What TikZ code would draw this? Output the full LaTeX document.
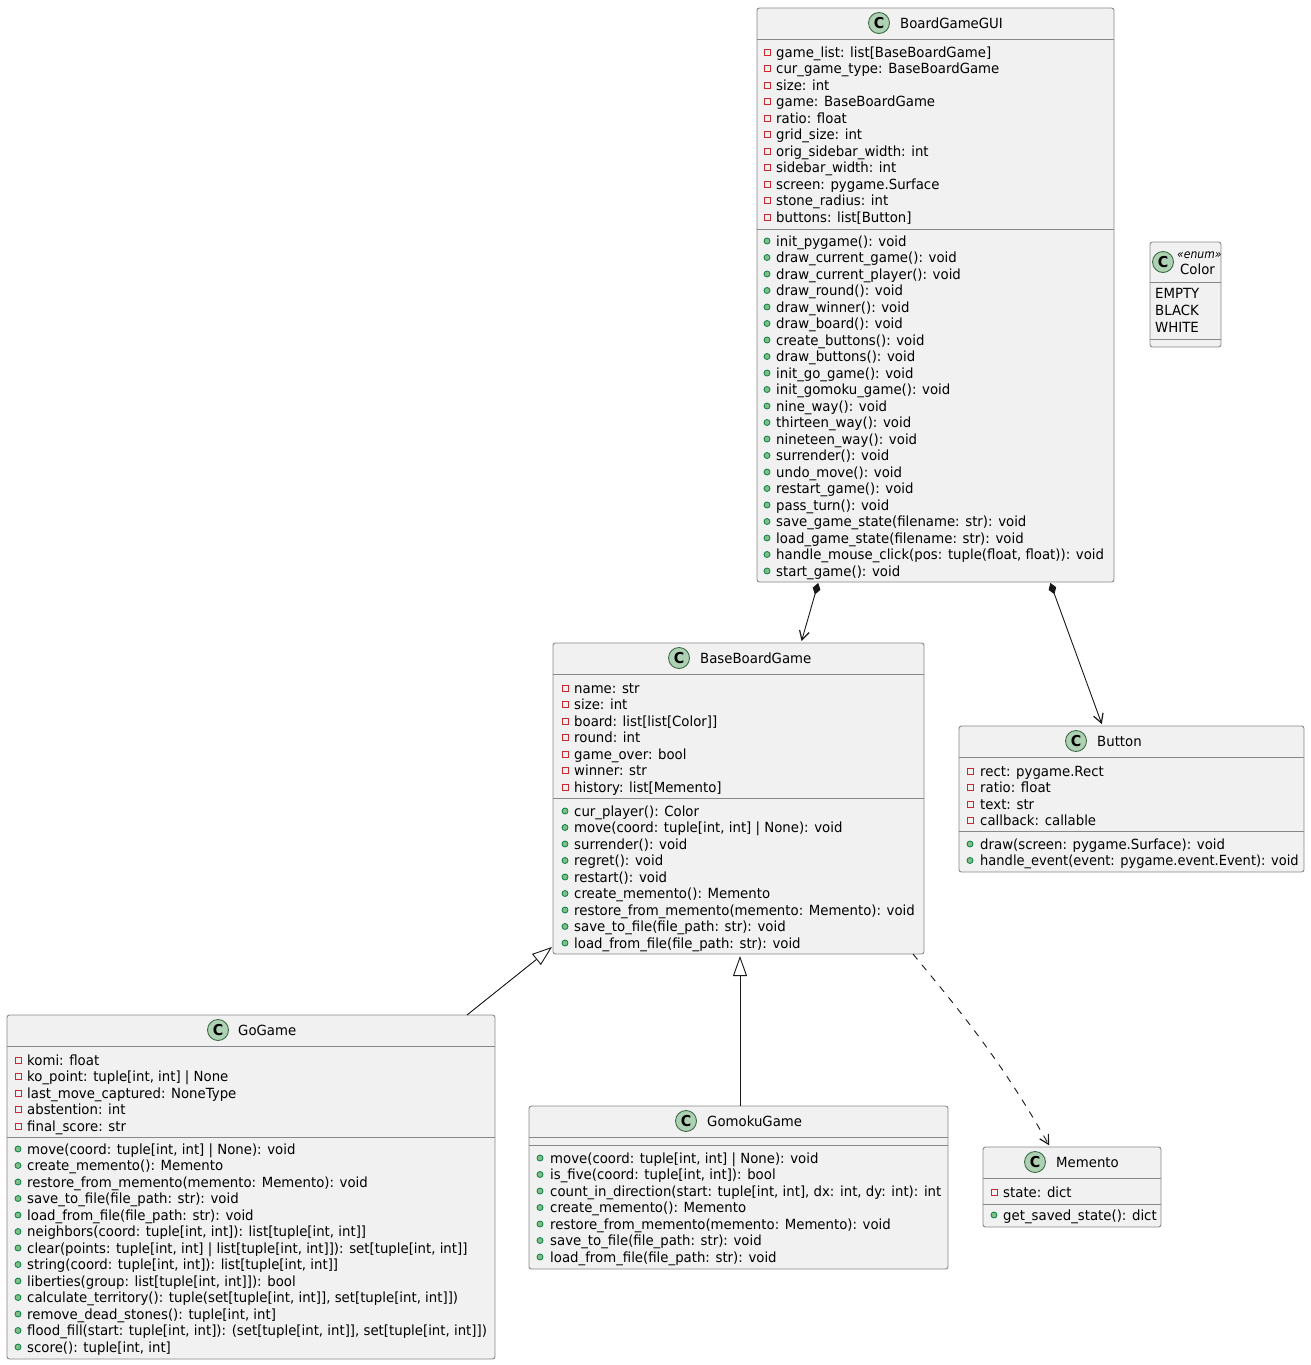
\documentclass[tikz,border=0pt]{standalone}
\usepackage{fontspec}
\setmainfont[FakeStretch=0.95]{DejaVu Sans}
\usetikzlibrary{arrows.meta}

\definecolor{boxfill}{HTML}{F1F1F1}
\definecolor{boxline}{HTML}{888888}
\definecolor{linkline}{HTML}{181818}
\definecolor{spotfill}{HTML}{ADD1B2}
\definecolor{spotline}{HTML}{3D6B47}
\definecolor{privline}{HTML}{C82930}
\definecolor{pubfill}{HTML}{84BE84}
\definecolor{publine}{HTML}{038048}

\tikzset{
  classbox/.style={draw=boxline, fill=boxfill, line width=0.9pt, rounded corners=2.5pt, outer sep=0pt, anchor=north west},
  sepline/.style={draw=boxline, line width=0.9pt},
  spot/.style={circle, draw=spotline, fill=spotfill, line width=0.9pt, minimum size=21pt, inner sep=0pt, font=\fontsize{15}{15}\bfseries},
  titletext/.style={anchor=base west, inner sep=0pt, font=\fontsize{14}{16}\selectfont},
  rowtext/.style={anchor=base west, inner sep=0pt, yshift=-5pt, font=\fontsize{14}{16}\selectfont},
  privmark/.style={draw=privline, fill=boxfill, line width=0.8pt, minimum size=6pt, inner sep=0pt},
  pubmark/.style={circle, draw=publine, fill=pubfill, line width=0.8pt, minimum size=6pt, inner sep=0pt},
  composed/.style={draw=linkline, line width=0.9pt, {Diamond[length=12pt,width=8pt]}-{Straight Barb[length=9pt,width=10pt,line width=1.2pt]}, shorten <=1pt, shorten >=2pt},
  inherits/.style={draw=linkline, line width=0.9pt, -{Triangle[open,fill=white,length=20pt,width=14pt]}},
  depends/.style={draw=linkline, line width=0.9pt, dash pattern=on 7pt off 7pt, -{Straight Barb[length=9pt,width=10pt,line width=1.2pt]}, shorten >=2pt},
}

% prefix, marker style, marker x, text x, first y, rows
\newcommand{\memberrows}[6]{
  \foreach \t [count=\i from 0] in {#6} {
    \node[#2] (#1-m\i) at (#3, {#5+16.5*\i}) {};
    \node[rowtext] (#1-t\i) at (#4, {#5+16.5*\i}) {\t};
  }
}

\begin{document}
\begin{tikzpicture}[x=1pt, y=-1pt]
\useasboundingbox (0,0) rectangle (1310,1365);

% BoardGameGUI
\node[classbox, minimum width=357pt, minimum height=574pt] (gui) at (757,8) {};
\node[spot] (guispot) at (879,23) {C};
\node[titletext] (guititle) at (900,28) {BoardGameGUI};
\draw[sepline] (gui.west |- 0,39) -- (gui.east |- 0,39);
\memberrows{guif}{privmark}{767}{776}{52}{{game\_list: list[BaseBoardGame]},{cur\_game\_type: BaseBoardGame},{size: int},{game: BaseBoardGame},{ratio: float},{grid\_size: int},{orig\_sidebar\_width: int},{sidebar\_width: int},{screen: pygame.Surface},{stone\_radius: int},{buttons: list[Button]}}
\draw[sepline] (gui.west |- 0,229) -- (gui.east |- 0,229);
\memberrows{guim}{pubmark}{767}{776}{241}{{init\_pygame(): void},{draw\_current\_game(): void},{draw\_current\_player(): void},{draw\_round(): void},{draw\_winner(): void},{draw\_board(): void},{create\_buttons(): void},{draw\_buttons(): void},{init\_go\_game(): void},{init\_gomoku\_game(): void},{nine\_way(): void},{thirteen\_way(): void},{nineteen\_way(): void},{surrender(): void},{undo\_move(): void},{restart\_game(): void},{pass\_turn(): void},{save\_game\_state(filename: str): void},{load\_game\_state(filename: str): void},{handle\_mouse\_click(pos: tuple(float, float)): void},{start\_game(): void}}

% Color
\node[classbox, minimum width=71pt, minimum height=105pt] (color) at (1150,242) {};
\node[spot] (colorspot) at (1163,262) {C};
\node[titletext, font=\fontsize{12}{13}\itshape] (colorkind) at (1177,258) {\scalebox{0.95}[1]{«enum»}};
\node[titletext] (colortitle) at (1180,274) {Color};
\draw[sepline] (color.west |- 0,282) -- (color.east |- 0,282);
\node[rowtext] (empty) at (1155,293) {EMPTY};
\node[rowtext] (black) at (1155,310) {BLACK};
\node[rowtext] (white) at (1155,327) {WHITE};
\draw[sepline] (color.west |- 0,339) -- (color.east |- 0,339);

% BaseBoardGame
\node[classbox, minimum width=371pt, minimum height=311pt] (base) at (553,643) {};
\node[spot] (basespot) at (679,658) {C};
\node[titletext] (basetitle) at (700,663) {BaseBoardGame};
\draw[sepline] (base.west |- 0,674) -- (base.east |- 0,674);
\memberrows{basef}{privmark}{565}{574}{688}{{name: str},{size: int},{board: list[list[Color]]},{round: int},{game\_over: bool},{winner: str},{history: list[Memento]}}
\draw[sepline] (base.west |- 0,798) -- (base.east |- 0,798);
\memberrows{basem}{pubmark}{565}{574}{811}{{cur\_player(): Color},{move(coord: tuple[int, int] | None): void},{surrender(): void},{regret(): void},{restart(): void},{create\_memento(): Memento},{restore\_from\_memento(memento: Memento): void},{save\_to\_file(file\_path: str): void},{load\_from\_file(file\_path: str): void}}

% Button
\node[classbox, minimum width=345pt, minimum height=146pt] (button) at (959,726) {};
\node[spot] (buttonspot) at (1076,741) {C};
\node[titletext] (buttontitle) at (1097,746) {Button};
\draw[sepline] (button.west |- 0,757) -- (button.east |- 0,757);
\memberrows{buttonf}{privmark}{970}{980}{771}{{rect: pygame.Rect},{ratio: float},{text: str},{callback: callable}}
\draw[sepline] (button.west |- 0,831) -- (button.east |- 0,831);
\memberrows{buttonm}{pubmark}{970}{980}{844}{{draw(screen: pygame.Surface): void},{\scalebox{0.98}[1]{handle\_event(event: pygame.event.Event): void}}}

% GoGame
\node[classbox, minimum width=488pt, minimum height=344pt] (go) at (7,1015) {};
\node[spot] (gospot) at (218,1030) {C};
\node[titletext] (gotitle) at (238,1035) {GoGame};
\draw[sepline] (go.west |- 0,1046) -- (go.east |- 0,1046);
\memberrows{gof}{privmark}{18}{27}{1060}{{komi: float},{ko\_point: tuple[int, int] | None},{last\_move\_captured: NoneType},{abstention: int},{final\_score: str}}
\draw[sepline] (go.west |- 0,1137) -- (go.east |- 0,1137);
\memberrows{gom}{pubmark}{18}{27}{1149}{{move(coord: tuple[int, int] | None): void},{create\_memento(): Memento},{restore\_from\_memento(memento: Memento): void},{save\_to\_file(file\_path: str): void},{load\_from\_file(file\_path: str): void},{neighbors(coord: tuple[int, int]): list[tuple[int, int]]},{clear(points: tuple[int, int] | list[tuple[int, int]]): set[tuple[int, int]]},{string(coord: tuple[int, int]): list[tuple[int, int]]},{liberties(group: list[tuple[int, int]]): bool},{calculate\_territory(): tuple(set[tuple[int, int]], set[tuple[int, int]])},{remove\_dead\_stones(): tuple[int, int]},{flood\_fill(start: tuple[int, int]): (set[tuple[int, int]], set[tuple[int, int]])},{score(): tuple[int, int]}}

% GomokuGame
\node[classbox, minimum width=419pt, minimum height=163pt] (gomoku) at (529,1106) {};
\node[spot] (gomokuspot) at (686,1121) {C};
\node[titletext] (gomokutitle) at (707,1126) {GomokuGame};
\draw[sepline] (gomoku.west |- 0,1137) -- (gomoku.east |- 0,1137);
\draw[sepline] (gomoku.west |- 0,1145) -- (gomoku.east |- 0,1145);
\memberrows{gomokum}{pubmark}{540}{550}{1158}{{move(coord: tuple[int, int] | None): void},{is\_five(coord: tuple[int, int]): bool},{count\_in\_direction(start: tuple[int, int], dx: int, dy: int): int},{create\_memento(): Memento},{restore\_from\_memento(memento: Memento): void},{save\_to\_file(file\_path: str): void},{load\_from\_file(file\_path: str): void}}

% Memento
\node[classbox, minimum width=178pt, minimum height=80pt] (memento) at (983,1147) {};
\node[spot] (mementospot) at (1035,1162) {C};
\node[titletext] (mementotitle) at (1056,1167) {Memento};
\draw[sepline] (memento.west |- 0,1178) -- (memento.east |- 0,1178);
\memberrows{mementof}{privmark}{994}{1003}{1192}{{state: dict}}
\draw[sepline] (memento.west |- 0,1204) -- (memento.east |- 0,1204);
\memberrows{mementom}{pubmark}{994}{1003}{1215}{{get\_saved\_state(): dict}}

% links
\draw[composed] ([xshift=-117pt]gui.south) -- ([xshift=62.5pt]base.north);
\draw[composed] ([xshift=114.5pt]gui.south) -- ([xshift=-29pt]button.north);
\draw[inherits] ([xshift=216pt]go.north) -- ([xshift=-1pt,yshift=7pt]base.south west);
\draw[inherits] ([xshift=1.5pt]gomoku.north) -- ([xshift=1.5pt,yshift=-2pt]base.south);
\draw[depends] ([xshift=-11pt]base.south east) .. controls +(42,51) and +(-50,-89) .. ([xshift=-22pt]memento.north);
\end{tikzpicture}
\end{document}
